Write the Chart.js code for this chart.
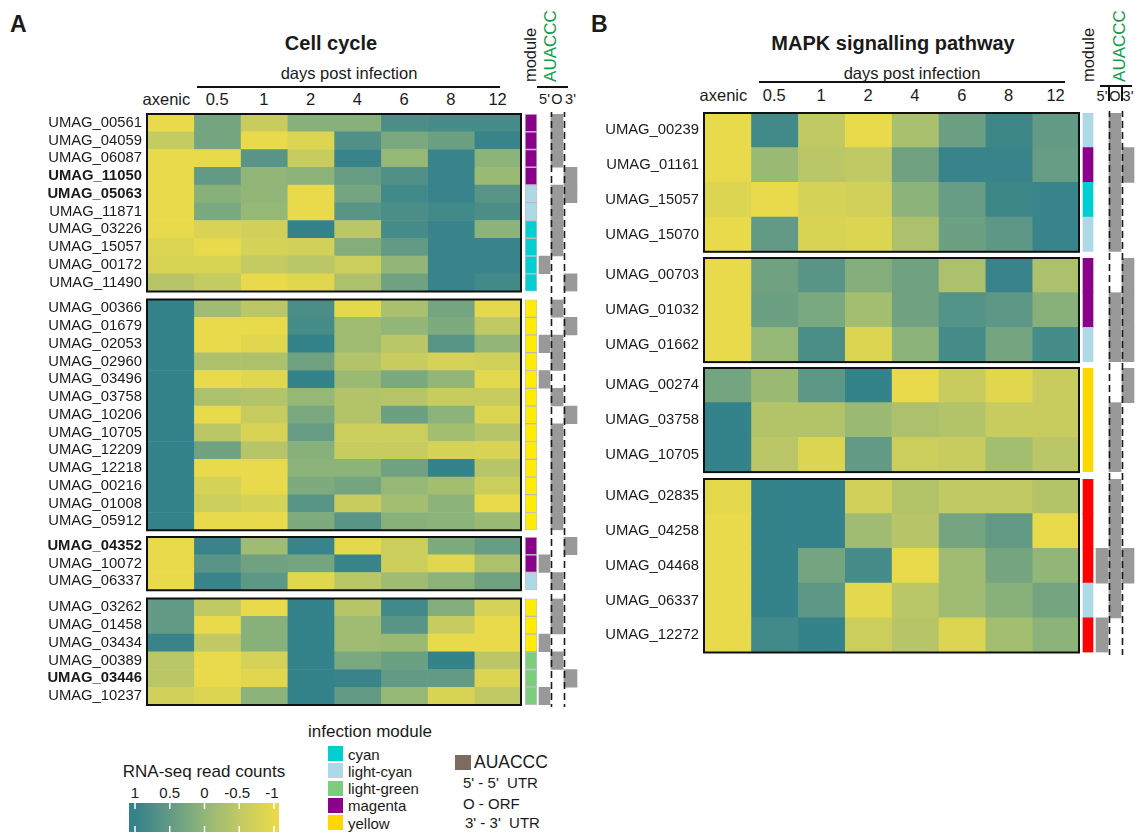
<!DOCTYPE html>
<html>
<head>
<meta charset="utf-8">
<script src="https://cdn.jsdelivr.net/npm/chart.js@4.4.1/dist/chart.umd.min.js"></script>
<style>
  body { margin: 0; background: #fff; }
  #fig { position: relative; width: 1140px; height: 832px; overflow: hidden;
         font-family: "Liberation Sans", Arial, Helvetica, sans-serif; color: #1a1a1a; }
  #fig canvas { position: absolute; }
  .t { position: absolute; white-space: nowrap; line-height: 1; }
  .ln { position: absolute; background: #111; }
</style>
</head>
<body>
<div id="fig"></div>
<script>
// ---------- data ----------
const timepoints = ["axenic", "0.5", "1", "2", "4", "6", "8", "12"];
const siteKeys = ["5", "O", "3"];
const siteLabels = ["5'", "O", "3'"];
const scaleTicks = [1, 0.5, 0, -0.5, -1];
const moduleNames = ["cyan", "light-cyan", "light-green", "magenta", "yellow"];

// panel A - cell cycle
const cellGroups = [10, 13, 3, 6];
const cellGenes = [
  "UMAG_00561", "UMAG_04059", "UMAG_06087", "UMAG_11050", "UMAG_05063",
  "UMAG_11871", "UMAG_03226", "UMAG_15057", "UMAG_00172", "UMAG_11490",
  "UMAG_00366", "UMAG_01679", "UMAG_02053", "UMAG_02960", "UMAG_03496",
  "UMAG_03758", "UMAG_10206", "UMAG_10705", "UMAG_12209", "UMAG_12218",
  "UMAG_00216", "UMAG_01008", "UMAG_05912",
  "UMAG_04352", "UMAG_10072", "UMAG_06337",
  "UMAG_03262", "UMAG_01458", "UMAG_03434", "UMAG_00389", "UMAG_03446", "UMAG_10237"
];
const cellBold = ["UMAG_11050", "UMAG_05063", "UMAG_04352", "UMAG_03446"];
const cellValues = [
  [-1, 0.3, -0.6, 0.1, 0.1, 0.75, 0.8, 0.8],
  [-0.55, 0.3, -1, -0.85, 0.7, 0.25, 0.4, 0.95],
  [-1, -1, 0.6, -0.6, 0.95, -0.05, 0.95, 0.05],
  [-1, 0.5, 0, 0.05, 0.45, 0.7, 0.95, -0.1],
  [-1, 0.1, 0, -1, 0.3, 0.85, 0.95, 0.6],
  [-1, 0.25, -0.05, -1, 0.6, 0.75, 0.85, 0.75],
  [-1, -0.8, -0.7, 1, -0.45, 0.8, 0.95, 0.05],
  [-0.85, -1, -0.75, -0.7, 0.15, 0.5, 0.95, 0.95],
  [-0.8, -0.8, -0.55, -0.45, -0.65, 0, 0.95, 0.95],
  [-0.4, -0.55, -1, -0.9, -0.3, 0.35, 0.95, 0.85],
  [1, -0.15, -0.45, 0.75, -0.95, -0.25, 0.3, -0.95],
  [1, -1, -1, 0.8, -0.15, 0, 0.2, -0.5],
  [1, -1, -0.9, 1, -0.15, -0.45, 0.6, 0],
  [1, -0.3, -0.3, 0.35, -0.35, -0.6, -0.75, -0.7],
  [1, -1, -0.9, 1, -0.1, 0.25, 0, -0.95],
  [1, -0.3, -0.35, -0.05, -0.35, -0.4, -0.6, -0.6],
  [1, -1, -0.6, 0.25, -0.35, 0.4, 0.05, -0.85],
  [1, -0.45, -0.8, 0.45, -0.65, -0.65, -0.2, -0.4],
  [1, 0.35, -0.4, 0.1, -0.6, -0.6, -0.75, -0.8],
  [1, -1, -1, 0.05, 0.05, 0.35, 1, -0.4],
  [1, -0.75, -1, 0.2, 0.3, -0.05, -0.2, -0.65],
  [1, -0.65, -0.75, 0.6, -0.6, -0.2, 0.05, -1],
  [1, -1, -1, 0.2, 0.6, 0.1, 0.05, -0.1],
  [-1, 0.95, -0.15, 0.95, -0.95, -0.65, 0.2, 0.45],
  [-1, 0.6, 0.35, 0.3, 0.95, -0.65, -0.9, -0.3],
  [-1, 0.95, 0.55, -0.9, -0.45, -0.15, 0.05, 0.35],
  [0.5, -0.5, -1, 1, -0.4, 0.85, 0.15, -0.75],
  [0.5, -1, 0.1, 1, -0.15, 0.6, -0.6, -1],
  [0.95, -0.5, 0.1, 1, -0.15, -0.1, -1, -1],
  [-0.45, -1, -0.75, 1, 0.25, 0.4, 1, -0.45],
  [-0.45, -1, -0.9, 1, 0.95, 0.5, 0.5, -0.85],
  [-0.7, -0.85, 0.05, 1, 0.5, -0.05, -0.8, -0.5]
];
const cellModules = [
  "magenta", "magenta", "magenta", "magenta", "light-cyan", "light-cyan", "cyan", "cyan", "cyan", "cyan",
  "yellow", "yellow", "yellow", "yellow", "yellow", "yellow", "yellow", "yellow", "yellow", "yellow",
  "yellow", "yellow", "yellow",
  "magenta", "magenta", "light-cyan",
  "yellow", "yellow", "yellow", "light-green", "light-green", "light-green"
];
// AUACCC sites: 5 = 5' UTR, O = ORF, 3 = 3' UTR
const cellSites = [
  "O", "O", "O", "3", "O3", "O", "O", "O", "5", "3",
  "O", "3", "5O", "O", "5", "O", "3", "O", "O", "O", "O", "O", "O",
  "3", "5", "O",
  "O", "O", "5", "O", "3", "5"
];

// panel B - MAPK signalling pathway
const mapkGroups = [4, 3, 3, 5];
const mapkGenes = [
  "UMAG_00239", "UMAG_01161", "UMAG_15057", "UMAG_15070",
  "UMAG_00703", "UMAG_01032", "UMAG_01662",
  "UMAG_00274", "UMAG_03758", "UMAG_10705",
  "UMAG_02835", "UMAG_04258", "UMAG_04468", "UMAG_06337", "UMAG_12272"
];
const mapkBold = [];
const mapkValues = [
  [-1, 0.85, -0.5, -1, -0.25, 0.4, 0.9, 0.5],
  [-1, -0.1, -0.45, -0.5, 0.35, 0.95, 0.95, 0.45],
  [-0.85, -1, -0.75, -0.7, 0.05, 0.45, 0.9, 0.95],
  [-1, 0.5, -0.8, -0.85, -0.3, 0.4, 0.55, 0.95],
  [-1, 0.35, 0.6, 0.15, 0.35, -0.3, 0.95, -0.3],
  [-1, 0.4, 0.25, -0.2, 0.35, 0.65, 0.55, 0.1],
  [-1, -0.05, 0.75, -0.85, 0.05, 0.8, 0.3, 0.8],
  [0.3, -0.1, 0.55, 1, -1, -0.6, -0.9, -0.6],
  [1, -0.35, -0.35, -0.1, -0.3, -0.35, -0.6, -0.6],
  [1, -0.45, -0.85, 0.5, -0.65, -0.6, -0.2, -0.45],
  [-0.95, 1, 1, -0.7, -0.35, -0.5, -0.5, -0.35],
  [-1, 1, 1, -0.15, -0.4, 0.3, 0.5, -1],
  [-1, 1, 0.3, 0.8, -1, -0.15, 0.3, 0],
  [-1, 1, 0.55, -0.95, -0.45, -0.15, 0.1, 0.3],
  [-1, 0.85, 1, -0.65, -0.4, -0.85, -0.2, 0.05]
];
const mapkModules = [
  "light-cyan", "magenta", "cyan", "light-cyan",
  "magenta", "magenta", "light-cyan",
  "yellow", "yellow", "yellow",
  "red", "red", "red", "light-cyan", "red"
];
const mapkSites = [
  "O", "O3", "O", "O",
  "3", "O3", "O3",
  "3", "O", "O",
  "O", "O", "5O3", "O", "5"
];

// ---------- styling ----------
const FONT = '"Liberation Sans", Arial, Helvetica, sans-serif';
const GREEN = "#139a4a";
const moduleColors = {
  "cyan": "#00ced1", "light-cyan": "#add8e6", "light-green": "#7ccd7c",
  "magenta": "#8b008b", "yellow": "#ffd700", "red": "#ff0000"
};
const heatStops = [
  [-1, [232, 218, 74]], [-0.5, [192, 201, 100]], [0, [145, 182, 120]],
  [0.5, [98, 154, 133]], [1, [52, 130, 138]]
];

function heatColor(v) {
  v = Math.max(-1, Math.min(1, v));
  for (let i = 0; i < heatStops.length - 1; i++) {
    const [a, ca] = heatStops[i], [b, cb] = heatStops[i + 1];
    if (v <= b) {
      const f = (v - a) / (b - a);
      const c = ca.map((x, j) => Math.round(x + (cb[j] - x) * f));
      return `rgb(${c[0]},${c[1]},${c[2]})`;
    }
  }
}

const fig = document.getElementById("fig");

function txt(s, x, y, o = {}) {
  const d = document.createElement("div");
  d.className = "t";
  d.textContent = s;
  d.style.left = x + "px";
  d.style.top = y + "px";
  d.style.fontSize = (o.size || 15) + "px";
  if (o.bold) d.style.fontWeight = "bold";
  if (o.color) d.style.color = o.color;
  const tx = o.align === "left" ? "0" : o.align === "right" ? "-100%" : "-50%";
  d.style.transform = `translate(${tx},-50%)` + (o.rotate ? " rotate(-90deg)" : "");
  fig.appendChild(d);
  return d;
}

function line(x, y, w, h) {
  const d = document.createElement("div");
  d.className = "ln";
  Object.assign(d.style, { left: x + "px", top: y + "px", width: w + "px", height: h + "px" });
  fig.appendChild(d);
}

// frame around each heatmap block + dashed separators of the AUACCC columns
const framePlugin = {
  id: "frame",
  afterDatasetsDraw(chart, args, opts) {
    const { ctx, chartArea, scales: { x } } = chart;
    ctx.save();
    ctx.strokeStyle = "#1a1a1a";
    ctx.lineWidth = 1.6;
    ctx.setLineDash([7, 4]);
    ctx.lineDashOffset = opts.dashOffset;
    opts.dashes.forEach(u => {
      const px = Math.round(x.getPixelForValue(u)) + 0.5;
      ctx.beginPath();
      ctx.moveTo(px, 0);
      ctx.lineTo(px, chart.height);
      ctx.stroke();
    });
    ctx.setLineDash([]);
    ctx.lineWidth = 2;
    ctx.strokeStyle = "#111";
    const l = x.getPixelForValue(0), r = x.getPixelForValue(timepoints.length);
    ctx.strokeRect(l, chartArea.top, r - l, chartArea.bottom - chartArea.top);
    ctx.restore();
  }
};

function drawPanel(p) {
  const cellW = (p.heatRight - p.heatLeft) / timepoints.length;
  const u = px => (px - p.heatLeft) / cellW;
  let start = 0;
  p.groups.forEach((n, gi) => {
    const top = p.groupTops[gi], bottom = top + n * p.rowH;
    const prevBottom = gi > 0 ? p.groupTops[gi - 1] + p.groups[gi - 1] * p.rowH : null;
    const nextTop = gi < p.groups.length - 1 ? p.groupTops[gi + 1] : null;
    const extTop = Math.round(prevBottom === null ? top - 2 : (prevBottom + top) / 2);
    const extBottom = Math.round(nextTop === null ? bottom + 2 : (bottom + nextTop) / 2);
    const idx = [];
    for (let i = start; i < start + n; i++) idx.push(i);
    start += n;

    const cv = document.createElement("canvas");
    cv.width = p.canvasWidth;
    cv.height = extBottom - extTop;
    cv.style.left = p.canvasLeft + "px";
    cv.style.top = extTop + "px";
    cv.style.width = p.canvasWidth + "px";
    cv.style.height = (extBottom - extTop) + "px";
    fig.appendChild(cv);

    const datasets = timepoints.map((t, k) => ({
      label: t,
      data: idx.map(() => [k, k + 1]),
      backgroundColor: idx.map(i => heatColor(p.values[i][k])),
      borderWidth: 0
    }));
    datasets.push({
      label: "module",
      data: idx.map(() => [u(p.modX[0]), u(p.modX[1])]),
      backgroundColor: idx.map(i => p.modColors[p.modules[i]] || moduleColors[p.modules[i]]),
      borderWidth: p.modBorder,
      borderColor: "rgba(60,60,60,0.3)"
    });
    siteKeys.forEach(s => datasets.push({
      label: s,
      data: idx.map(i => p.sites[i].includes(s) ? [u(p.siteX[s][0]), u(p.siteX[s][1])] : null),
      backgroundColor: "#999999",
      borderWidth: 0
    }));

    const chart = new Chart(cv, {
      type: "bar",
      data: { labels: idx.map(i => p.genes[i]), datasets },
      options: {
        indexAxis: "y",
        responsive: false,
        animation: false,
        devicePixelRatio: 1,
        events: [],
        layout: { padding: { top: top - extTop, bottom: extBottom - bottom, left: 0,
                             right: p.canvasWidth - (p.xMaxPx - p.canvasLeft) } },
        datasets: { bar: { grouped: false, barPercentage: 1, categoryPercentage: 1, borderSkipped: false } },
        plugins: {
          legend: { display: false },
          tooltip: { enabled: false },
          frame: { dashes: p.dashX.map(u), dashOffset: extTop % 11 }
        },
        scales: {
          x: { type: "linear", display: false, min: 0, max: u(p.xMaxPx) },
          y: {
            grid: { display: false, drawTicks: false },
            border: { display: false },
            ticks: {
              autoSkip: false,
              padding: 5,
              color: "#1a1a1a",
              font: c => ({ family: FONT, size: 14.8,
                            weight: p.bold.includes(p.genes[idx[c.index]]) ? "bold" : "normal" })
            },
            afterFit: s => {
              s.width = p.heatLeft - p.canvasLeft;
              s.paddingTop = 0;
              s.paddingBottom = 0;
            }
          }
        }
      },
      plugins: [framePlugin]
    });

    if (gi === 0) {
      // column headers placed through the chart's own x scale
      timepoints.forEach((t, k) => {
        const x = p.canvasLeft + chart.scales.x.getPixelForValue(k + 0.5) + (k === 0 ? -4 : 0);
        txt(t, x, p.headY, { size: 16.5 });
      });
      siteKeys.forEach((s, k) => {
        const r = p.siteX[s];
        txt(siteLabels[k], (r[0] + r[1]) / 2, p.siteY, { size: 14.5 });
      });
    }
  });
}

// ---------- panel A ----------
txt("A", 10, 24, { size: 23, bold: true, align: "left" });
txt("Cell cycle", 331, 43, { size: 20, bold: true });
txt("days post infection", 349, 72.5, { size: 16.5 });
line(197, 86, 303, 2);
txt("module", 529.5, 55, { size: 16.5, rotate: true });
txt("AUACCC", 550, 46, { size: 17, rotate: true, color: GREEN });
line(537, 86, 31, 2);

drawPanel({
  genes: cellGenes, values: cellValues, modules: cellModules, sites: cellSites, bold: cellBold,
  groups: cellGroups, groupTops: [114, 299.5, 537, 598.5], rowH: 17.75,
  canvasLeft: 0, canvasWidth: 600, heatLeft: 147, heatRight: 521, xMaxPx: 580,
  modX: [525, 537], modBorder: 1, modColors: { yellow: "#ffec00" },
  siteX: { "5": [539, 550], "O": [551, 563], "3": [564, 577] }, dashX: [550.5, 563.5],
  headY: 99, siteY: 99
});

// ---------- panel B ----------
txt("B", 591, 24, { size: 23, bold: true, align: "left" });
txt("MAPK signalling pathway", 893, 43, { size: 20, bold: true });
txt("days post infection", 912, 72.5, { size: 16.5 });
line(759, 81, 306, 2);
txt("module", 1088, 55, { size: 16.5, rotate: true });
txt("AUACCC", 1119, 46, { size: 17, rotate: true, color: GREEN });
line(1100, 85, 32, 2);
line(1108, 87, 1.5, 14);
line(1121, 87, 1.5, 14);

drawPanel({
  genes: mapkGenes, values: mapkValues, modules: mapkModules, sites: mapkSites, bold: mapkBold,
  groups: mapkGroups, groupTops: [113, 258, 368, 479], rowH: 34.7,
  canvasLeft: 590, canvasWidth: 550, heatLeft: 704, heatRight: 1079, xMaxPx: 1137,
  modX: [1083, 1093], modBorder: 0, modColors: {},
  siteX: { "5": [1096, 1108], "O": [1109, 1121], "3": [1122, 1134] }, dashX: [1108.5, 1121.5],
  headY: 95, siteY: 96
});

// ---------- legends ----------
txt("RNA-seq read counts", 204, 771, { size: 17 });
const barL = 129, barR = 279, v2x = v => 135 + (1 - v) / 2 * 139;
const cb = document.createElement("canvas");
cb.width = barR - barL; cb.height = 30;
cb.style.left = barL + "px"; cb.style.top = "803px";
fig.appendChild(cb);
const cctx = cb.getContext("2d");
for (let px = 0; px < cb.width; px++) {
  const v = 1 - 2 * (barL + px + 0.5 - 135) / 139;
  cctx.fillStyle = heatColor(v);
  cctx.fillRect(px, 0, 1, cb.height);
}
cctx.strokeStyle = "#fff";
cctx.lineWidth = 1.5;
scaleTicks.forEach(v => {
  const x = v2x(v) - barL;
  cctx.beginPath(); cctx.moveTo(x, 0); cctx.lineTo(x, 6); cctx.stroke();
  cctx.beginPath(); cctx.moveTo(x, 23); cctx.lineTo(x, 30); cctx.stroke();
  txt(String(v), v2x(v) - (v < 0 ? 2 : 0), 792, { size: 15 });
});

txt("infection module", 370, 731, { size: 17 });
moduleNames.forEach((m, i) => {
  const y = 746 + i * 17.3;
  const sw = document.createElement("div");
  Object.assign(sw.style, { position: "absolute", left: "328px", top: y + "px", width: "15px",
                            height: "15px", background: moduleColors[m] });
  fig.appendChild(sw);
  txt(m, 348, y + 7.5, { size: 15, align: "left" });
});

const sq = document.createElement("div");
Object.assign(sq.style, { position: "absolute", left: "455px", top: "755px", width: "16px",
                          height: "15px", background: "#7d6b62" });
fig.appendChild(sq);
txt("AUACCC", 474, 762.5, { size: 17.5, align: "left" });
txt("5' - 5'  UTR", 463, 782, { size: 15, align: "left" }).style.whiteSpace = "pre";
txt("O - ORF", 463, 803, { size: 15, align: "left" });
txt("3' - 3'  UTR", 465, 822, { size: 15, align: "left" }).style.whiteSpace = "pre";
</script>
</body>
</html>
